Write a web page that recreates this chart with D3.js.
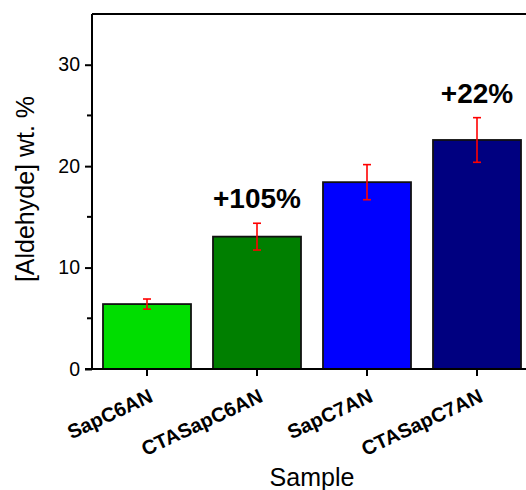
<!DOCTYPE html>
<html>
<head>
<meta charset="utf-8">
<script src="https://cdn.jsdelivr.net/npm/d3@7"></script>
<style>
  html, body { margin: 0; padding: 0; background: #fff; }
  svg { display: block; font-family: "Liberation Sans", Arial, sans-serif; }
</style>
</head>
<body>
<svg id="chart" width="526" height="490"></svg>
<script>
const categories = ["SapC6AN", "CTASapC6AN", "SapC7AN", "CTASapC7AN"];
const values = [6.4, 13.05, 18.42, 22.58];
const errors = [0.5, 1.32, 1.73, 2.2];
const barColors = ["#00DD00", "#007F00", "#0000FF", "#000080"];
const annotations = [null, "+105%", null, "+22%"];
const yTicks = [0, 10, 20, 30];
const yMinorTicks = [5, 15, 25];

const svg = d3.select("#chart");
const pLeft = 92, pRight = 532, pTop = 14, pBottom = 369;

const x = d3.scaleBand().domain(categories).range([pLeft, pRight]).paddingInner(0.2).paddingOuter(0.1);
const y = d3.scaleLinear().domain([0, 35]).range([pBottom, pTop]);

// bars
svg.append("g").selectAll("rect").data(categories).join("rect")
  .attr("x", d => x(d))
  .attr("y", (d, i) => y(values[i]))
  .attr("width", x.bandwidth())
  .attr("height", (d, i) => y(0) - y(values[i]))
  .attr("fill", (d, i) => barColors[i])
  .attr("stroke", "#111")
  .attr("stroke-width", 1.8);

// error bars
const eg = svg.append("g").attr("stroke", "#ff0000").attr("stroke-width", 1.6);
categories.forEach((c, i) => {
  const cx = x(c) + x.bandwidth() / 2;
  const y1 = y(values[i] + errors[i]), y2 = y(values[i] - errors[i]);
  eg.append("line").attr("x1", cx).attr("x2", cx).attr("y1", y1).attr("y2", y2);
  eg.append("line").attr("x1", cx - 4).attr("x2", cx + 4).attr("y1", y1).attr("y2", y1);
  eg.append("line").attr("x1", cx - 4).attr("x2", cx + 4).attr("y1", y2).attr("y2", y2);
});

// frame top
svg.append("line").attr("x1", pLeft).attr("x2", pRight).attr("y1", pTop).attr("y2", pTop)
  .attr("stroke", "#000").attr("stroke-width", 2);

// y axis
const yAxis = d3.axisLeft(y).tickValues(yTicks).tickSize(7).tickPadding(5).tickFormat(d3.format("d"));
const yg = svg.append("g").attr("transform", `translate(${pLeft},0)`).call(yAxis);
yg.select(".domain").attr("d", `M0,${pTop}V${pBottom}`).attr("stroke-width", 2);
yg.selectAll(".tick line").attr("stroke-width", 2);
yg.selectAll(".tick text").attr("font-size", 19.5).attr("font-family", "Liberation Sans, Arial, sans-serif").attr("fill", "#000");
yg.selectAll(".minor").data(yMinorTicks).join("line").attr("class", "minor")
  .attr("x1", -5).attr("x2", 0).attr("y1", d => y(d)).attr("y2", d => y(d))
  .attr("stroke", "#000").attr("stroke-width", 2);

// x axis
const xAxis = d3.axisBottom(x).tickSize(7).tickFormat("");
const xg = svg.append("g").attr("transform", `translate(0,${pBottom})`).call(xAxis);
xg.select(".domain").attr("d", `M${pLeft - 7},0H${pRight}`).attr("stroke-width", 2);
xg.selectAll(".tick line").attr("stroke-width", 2);

// rotated x labels
svg.append("g").selectAll("text").data(categories).join("text")
  .attr("transform", d => `translate(${x(d) + x.bandwidth() / 2 + 7},${pBottom + 32}) rotate(-25)`)
  .attr("text-anchor", "end")
  .attr("font-weight", "bold")
  .attr("font-size", 20)
  .attr("fill", "#000")
  .text(d => d);

// annotations
svg.append("g").selectAll("text").data(categories.filter((d, i) => annotations[i])).join("text")
  .attr("x", d => x(d) + x.bandwidth() / 2)
  .attr("y", d => { const i = categories.indexOf(d); return y(values[i] + errors[i]) - 15; })
  .attr("text-anchor", "middle")
  .attr("font-weight", "bold")
  .attr("font-size", 28)
  .attr("fill", "#000")
  .text(d => annotations[categories.indexOf(d)]);

// axis titles
svg.append("text")
  .attr("transform", `translate(34,189) rotate(-90)`)
  .attr("text-anchor", "middle")
  .attr("font-size", 25)
  .attr("fill", "#000")
  .text("[Aldehyde] wt. %");
svg.append("text")
  .attr("x", 312).attr("y", 486)
  .attr("text-anchor", "middle")
  .attr("font-size", 25)
  .attr("fill", "#000")
  .text("Sample");
</script>
</body>
</html>
